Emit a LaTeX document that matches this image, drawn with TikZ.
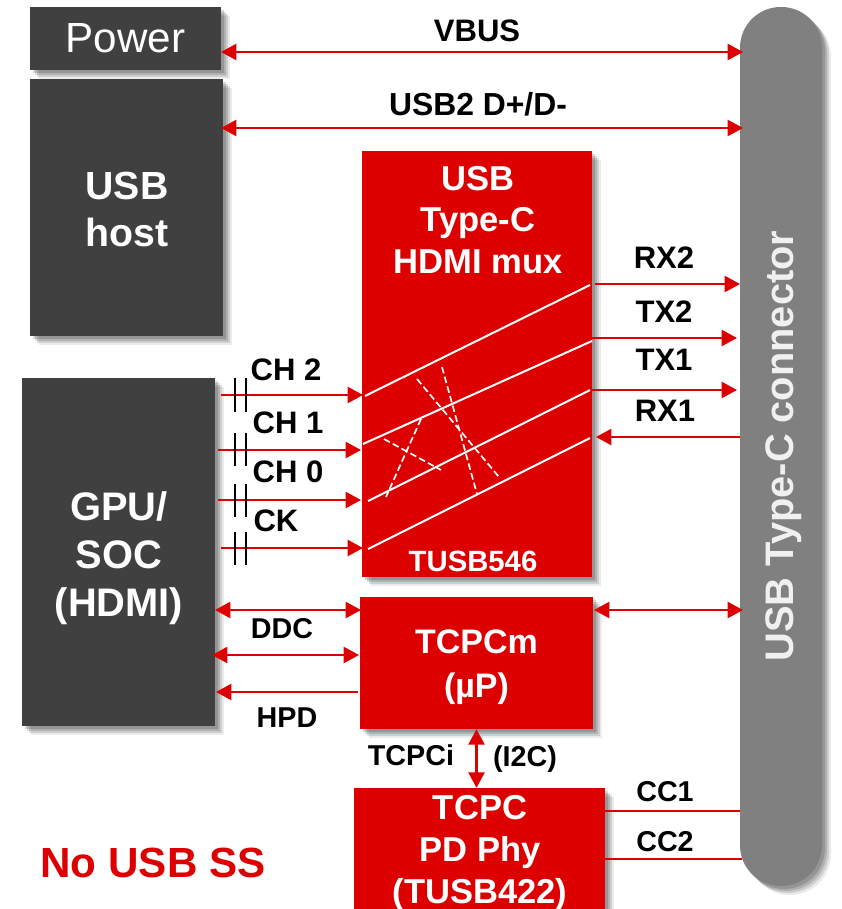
\documentclass[tikz,border=0pt]{standalone}
\usepackage{fontspec}
\setmainfont{Liberation Sans}
\usetikzlibrary{
	calc,          %coordinates
	arrows.meta,   %arrow tips
	shadows        %box shadows
}
\definecolor{tired}{HTML}{DD0000}
\definecolor{boxdark}{HTML}{404040}
\definecolor{connfill}{HTML}{808080}
\tikzset{
	softshadow/.style={
		drop shadow={shadow xshift=0.9mm,shadow yshift=-0.9mm,fill=black,opacity=.16},
		drop shadow={shadow xshift=1.5mm,shadow yshift=-1.5mm,fill=black,opacity=.14},
		drop shadow={shadow xshift=2.1mm,shadow yshift=-2.1mm,fill=black,opacity=.12},
		drop shadow={shadow xshift=2.7mm,shadow yshift=-2.7mm,fill=black,opacity=.08}
	},
	boxsize/.style 2 args={minimum width=#1*0.3mm,minimum height=#2*0.3mm,inner sep=0pt},
	darkbox/.style={fill=boxdark,text=white,align=center,softshadow},
	redbox/.style={fill=tired,text=white,align=center,softshadow},
	boxtext/.style={text=white,align=center,inner sep=0pt},
	biglabel/.style={font=\fontsize{26.5}{26.5}\selectfont\bfseries,inner sep=0pt},
	sig/.style={font=\fontsize{24.5}{24.5}\selectfont\bfseries,inner sep=0pt},
	sigline/.style={draw=tired,line width=0.7mm},
	caps/.style={draw=black,line width=0.85mm},
	wire/.style={draw=white,line width=0.6mm},
	wiredash/.style={draw=white,line width=0.5mm,dash pattern=on 2mm off 1mm},
	every picture/.style={
		>={Triangle[length=4.6mm,width=4.8mm]}
	}
}
\begin{document}
\begin{tikzpicture}[x=0.3mm,y=-0.3mm]
\useasboundingbox (0,0) rectangle (841,909);
% blocks
\node[darkbox,boxsize={191}{63},font=\fontsize{36}{36}\selectfont] (power) at (125.5,38.5) {Power};
\node[darkbox,boxsize={193}{257}] (host) at (126.5,207.5) {};
\node[darkbox,boxsize={193}{348}] (gpu) at (118.5,552) {};
\node[redbox,boxsize={230}{426}] (mux) at (477,364) {};
\node[redbox,boxsize={233}{132}] (tcpcm) at (476.5,663) {};
\node[redbox,boxsize={251}{121}] (tcpc) at (479.5,848.5) {};
\node[fill=connfill,rounded corners=12.2mm,softshadow,boxsize={82}{879}] (usbc) at (781,446.5) {};
\node[rotate=90,text=white!88!connfill,font=\fontsize{34}{34}\selectfont\bfseries,inner sep=0pt] (usbctext) at (784,446) {USB Type-C connector};
\node[boxtext,font=\fontsize{33.5}{40}\selectfont\bfseries] (hosttext) at (127,209.5) {USB\\host};
\node[boxtext,font=\fontsize{34}{41}\selectfont\bfseries] (gputext) at (119,558) {GPU/\\SOC\\(HDMI)};
\node[boxtext,font=\fontsize{29.5}{35.5}\selectfont\bfseries] (muxname) at (478,220) {USB\\Type-C\\HDMI mux};
\node[boxtext,font=\fontsize{25}{25}\selectfont\bfseries] (muxpart) at (473,561) {TUSB546};
\node[boxtext,font=\fontsize{29}{37}\selectfont\bfseries] (tcpcmtext) at (476.5,667) {TCPCm\\(µP)};
\node[boxtext,font=\fontsize{29.5}{35.5}\selectfont\bfseries] (tcpctext) at (480,853) {TCPC\\PD Phy\\(TUSB422)};
% wire ends
\coordinate (vbusa) at (221,52);   \coordinate (vbusb) at (743,52);
\coordinate (usbtwoa) at (221,128); \coordinate (usbtwob) at (743,128);
\coordinate (rxtwoa) at (595,284); \coordinate (rxtwob) at (740,284);
\coordinate (txtwoa) at (592,338); \coordinate (txtwob) at (737,338);
\coordinate (txonea) at (592,390); \coordinate (txoneb) at (737,390);
\coordinate (rxonea) at (740,437); \coordinate (rxoneb) at (596,437);
\coordinate (chtwoa) at (221,395); \coordinate (chtwob) at (363,395);
\coordinate (chonea) at (218,450); \coordinate (choneb) at (361,450);
\coordinate (chzeroa) at (218,500); \coordinate (chzerob) at (361,500);
\coordinate (cka) at (221,548); \coordinate (ckb) at (363,548);
\coordinate (ddca) at (215,610); \coordinate (ddcb) at (361,610);
\coordinate (ddcc) at (212,655); \coordinate (ddcd) at (359,655);
\coordinate (hpda) at (358,692); \coordinate (hpdb) at (216,692);
\coordinate (busa) at (594,610); \coordinate (busb) at (743,610);
\coordinate (cconea) at (605,811); \coordinate (cconeb) at (740,811);
\coordinate (cctwoa) at (605,859); \coordinate (cctwob) at (742,859);
% connectors
\draw[sigline,<->] (vbusa) -- (vbusb);
\draw[sigline,<->] (usbtwoa) -- (usbtwob);
\draw[sigline,->] (rxtwoa) -- (rxtwob);
\draw[sigline,->] (txtwoa) -- (txtwob);
\draw[sigline,->] (txonea) -- (txoneb);
\draw[sigline,->] (rxonea) -- (rxoneb);
\draw[sigline,->] (chtwoa) -- (chtwob);
\draw[sigline,->] (chonea) -- (choneb);
\draw[sigline,->] (chzeroa) -- (chzerob);
\draw[sigline,->] (cka) -- (ckb);
\draw[sigline,<->] (ddca) -- (ddcb);
\draw[sigline,<->] (ddcc) -- (ddcd);
\draw[sigline,->] (hpda) -- (hpdb);
\draw[sigline,<->] (busa) -- (busb);
\draw[sigline,<->] (tcpcm.south) -- (tcpc.north -| tcpcm.south);
\draw[sigline] (cconea) -- (cconeb);
\draw[sigline] (cctwoa) -- (cctwob);
% coupling caps
\draw[caps] (235,378) -- (235,412) (246,378) -- (246,412);
\draw[caps] (235,433) -- (235,466) (246,433) -- (246,466);
\draw[caps] (235,484) -- (235,517) (246,484) -- (246,517);
\draw[caps] (235,532) -- (235,565) (246,532) -- (246,565);
% mux lanes
\draw[wire] (365,396) -- (590,285);
\draw[wire] (363,444) -- (592,341);
\draw[wire] (368,501) -- (590,390);
\draw[wire] (368,549) -- (590,438);
\draw[wiredash] (417,379) -- (499,477);
\draw[wiredash] (442,367) -- (477,494);
\draw[wiredash] (421,419) -- (386,497);
\draw[wiredash] (384,439) -- (441,470);
% labels
\node[biglabel] (vbustext) at (477,31) {VBUS};
\node[biglabel,font=\fontsize{27.2}{27.2}\selectfont\bfseries] (usbtwotext) at (478,104) {USB2 D+/D-};
\node[biglabel] (rxtwotext) at (664,258) {RX2};
\node[biglabel] (txtwotext) at (664,312) {TX2};
\node[biglabel] (txonetext) at (664,360) {TX1};
\node[biglabel] (rxonetext) at (665,411) {RX1};
\node[biglabel] (chtwotext) at (286,370) {CH 2};
\node[biglabel] (chonetext) at (288,423) {CH 1};
\node[biglabel] (chzerotext) at (288,472) {CH 0};
\node[biglabel] (cktext) at (276,521) {CK};
\node[sig] (ddctext) at (282,629) {DDC};
\node[sig] (hpdtext) at (287,718) {HPD};
\node[sig] (tcpcitext) at (411,755) {TCPCi};
\node[sig] (ictext) at (525,759) {(I2C)};
\node[sig] (cconetext) at (665,792) {CC1};
\node[sig] (cctwotext) at (665,842) {CC2};
\node[text=tired,font=\fontsize{36}{36}\selectfont\bfseries,inner sep=0pt] (nousb) at (153,863) {No USB SS};
\end{tikzpicture}
\end{document}
